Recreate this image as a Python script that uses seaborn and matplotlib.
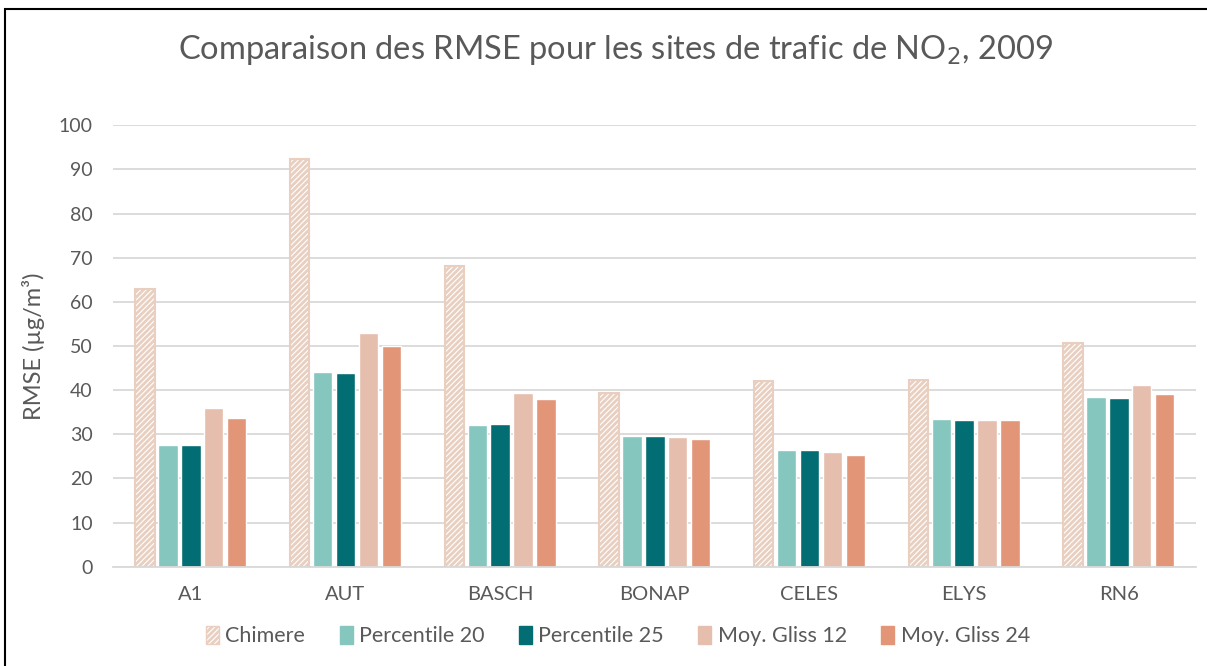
#!/usr/bin/env python
# RMSE comparison for NO2 traffic sites, 2009

import matplotlib.pyplot as plt
import pandas as pd
import seaborn as sns
from matplotlib.patches import Patch, Rectangle

sites = ["A1", "AUT", "BASCH", "BONAP", "CELES", "ELYS", "RN6"]
methods = ["Chimere", "Percentile 20", "Percentile 25", "Moy. Gliss 12", "Moy. Gliss 24"]

chimere = [62.8, 92.4, 68.1, 39.4, 42.1, 42.3, 50.7]
perc20 = [27.6, 44.0, 32.0, 29.6, 26.4, 33.4, 38.4]
perc25 = [27.5, 43.8, 32.3, 29.6, 26.4, 33.2, 38.2]
moy12 = [36.0, 53.0, 39.3, 29.5, 26.1, 33.2, 41.1]
moy24 = [33.8, 50.0, 37.9, 29.0, 25.3, 33.2, 39.1]

colors = ["#FFFFFF", "#85C6BF", "#036D74", "#E6BEAE", "#E29577"]
hatch_col = "#E8CFC0"
text_col = "#595959"


def main():
    sns.set_theme(style="white")
    plt.rcParams["font.family"] = ["Lato", "DejaVu Sans"]
    plt.rcParams["hatch.linewidth"] = 2.0

    df = pd.DataFrame({
        "site": sites * 5,
        "method": [m for m in methods for _ in sites],
        "rmse": chimere + perc20 + perc25 + moy12 + moy24,
    })

    fig = plt.figure(figsize=(12.07, 6.66), dpi=100)
    ax = fig.add_axes([0.094, 0.149, 0.897, 0.663])
    sns.barplot(data=df, x="site", y="rmse", hue="method", order=sites,
                hue_order=methods, palette=colors, width=0.74, gap=0.15,
                saturation=1, legend=False, ax=ax)

    for bar in ax.containers[0].patches:
        bar.set_hatch("//////")
        bar.set_edgecolor(hatch_col)
        bar.set_linewidth(1.5)

    ax.set_ylim(0, 100)
    ax.set_xlim(-0.5, 6.5)
    ax.set_yticks(range(0, 101, 10))
    ax.yaxis.grid(True, color="#D9D9D9", linewidth=1.3)
    ax.set_axisbelow(True)
    for s in ["top", "right", "left"]:
        ax.spines[s].set_visible(False)
    ax.spines["bottom"].set_color("#D9D9D9")
    ax.spines["bottom"].set_linewidth(1.3)
    ax.tick_params(axis="both", length=0, labelsize=14, colors=text_col)
    ax.tick_params(axis="x", pad=14, labelsize=14.5)
    ax.tick_params(axis="y", pad=15)
    ax.set_xlabel("")
    ax.set_ylabel("RMSE (µg/m³)", fontsize=17, color=text_col, labelpad=10)

    fig.text(0.51, 0.925, "Comparaison des RMSE pour les sites de trafic de NO$_2$, 2009",
             ha="center", va="center", fontsize=23.5, color=text_col)

    handles = [Patch(facecolor=c, edgecolor=c) for c in colors]
    handles[0] = Patch(facecolor="#FFFFFF", edgecolor=hatch_col, hatch="//////")
    fig.legend(handles=handles, labels=methods, loc="center", ncol=5,
               bbox_to_anchor=(0.512, 0.045), frameon=False, fontsize=15.5,
               handlelength=0.6, handleheight=0.9, handletextpad=0.3,
               columnspacing=1.6, labelcolor=text_col)

    border = Rectangle((5 / 1207, -0.05), 1.2, 1.05 - 9 / 666,
                       transform=fig.transFigure, fill=False,
                       edgecolor="black", linewidth=1.5, clip_on=False)
    fig.patches.append(border)

    fig.savefig("out.png", dpi=100)
    plt.close()


if __name__ == "__main__":
    main()
